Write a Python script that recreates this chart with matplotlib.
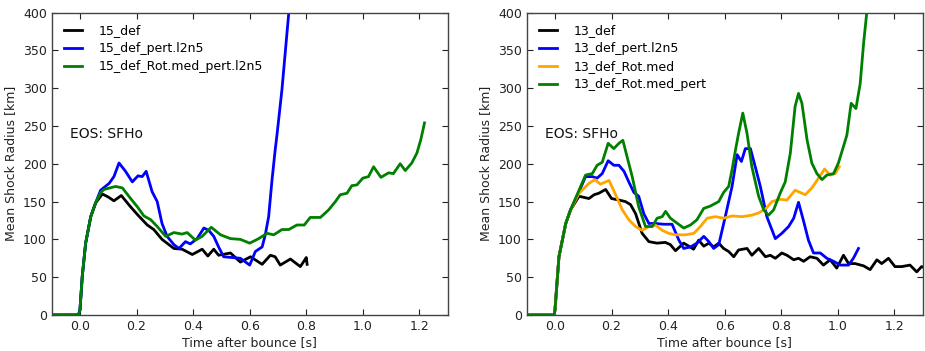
import numpy as np
import matplotlib
matplotlib.use("Agg")
import matplotlib.pyplot as plt

# Mean shock radius vs. time after bounce, two progenitor groups

# --- 15 Msun models (left panel) ---
t15_def = [-0.1, -0.005, 0.0, 0.008, 0.02, 0.038, 0.055, 0.079, 0.1, 0.12, 0.146, 0.179,
           0.205, 0.238, 0.261, 0.29, 0.332, 0.361, 0.397, 0.432, 0.452, 0.473, 0.49,
           0.532, 0.567, 0.603, 0.644, 0.673, 0.69, 0.708, 0.744, 0.779, 0.795, 0.8, 0.803]
r15_def = [0, 0, 7, 51, 95, 130, 148, 160, 156, 151, 158, 143,
           132, 119, 113, 100, 88, 87, 80, 87, 78, 87, 79,
           82, 70, 77, 67, 79, 77, 66, 74, 64, 73, 76, 67]

t15_pert = [-0.1, -0.005, 0.0, 0.008, 0.02, 0.038, 0.055, 0.073, 0.103, 0.12, 0.138, 0.161,
            0.185, 0.205, 0.22, 0.234, 0.255, 0.273, 0.29, 0.308, 0.332, 0.35, 0.373,
            0.39, 0.414, 0.438, 0.455, 0.473, 0.49, 0.508, 0.567, 0.6, 0.62, 0.644,
            0.655, 0.667, 0.679, 0.69, 0.697, 0.714, 0.738, 0.76]
r15_pert = [0, 0, 7, 51, 95, 130, 148, 165, 174, 183, 201, 190,
            176, 184, 183, 190, 163, 150, 121, 104, 93, 88, 97,
            94, 101, 115, 112, 104, 90, 77, 75, 66, 84, 90,
            106, 130, 179, 218, 240, 298, 399, 460]

t15_rot = [-0.1, -0.005, 0.0, 0.008, 0.02, 0.038, 0.055, 0.073, 0.085, 0.126, 0.15, 0.179,
           0.203, 0.226, 0.25, 0.273, 0.303, 0.332, 0.361, 0.379, 0.408, 0.432, 0.464,
           0.497, 0.532, 0.567, 0.6, 0.632, 0.661, 0.685, 0.714, 0.738, 0.767, 0.793,
           0.814, 0.85, 0.879, 0.903, 0.92, 0.944, 0.961, 0.979, 1.0, 1.02, 1.038,
           1.064, 1.091, 1.108, 1.132, 1.15, 1.173, 1.191, 1.205, 1.218]
r15_rot = [0, 0, 7, 51, 95, 130, 148, 162, 166, 170, 168, 154,
           143, 131, 126, 117, 104, 109, 107, 109, 99, 104, 116,
           106, 101, 100, 95, 101, 108, 106, 113, 113, 119, 119,
           129, 129, 139, 150, 159, 161, 171, 172, 181, 183, 196,
           182, 188, 187, 200, 191, 201, 214, 232, 254]

# --- 13 Msun models (right panel) ---
t13_def = [-0.1, -0.003, 0.0, 0.014, 0.026, 0.038, 0.055, 0.085, 0.12, 0.138, 0.155, 0.179,
           0.2, 0.226, 0.249, 0.267, 0.285, 0.308, 0.332, 0.361, 0.39, 0.408, 0.426,
           0.455, 0.473, 0.49, 0.508, 0.526, 0.544, 0.561, 0.579, 0.596, 0.614, 0.632,
           0.649, 0.679, 0.696, 0.72, 0.744, 0.761, 0.779, 0.802, 0.82, 0.844, 0.861,
           0.879, 0.902, 0.926, 0.949, 0.973, 0.996, 1.02, 1.038, 1.061, 1.091, 1.114,
           1.138, 1.155, 1.179, 1.202, 1.226, 1.255, 1.279, 1.296, 1.31]
r13_def = [0, 0, 7, 77, 99, 121, 139, 157, 154, 159, 161, 166,
           154, 152, 150, 146, 134, 108, 97, 95, 96, 93, 85,
           95, 91, 87, 99, 91, 95, 90, 95, 88, 84, 77,
           86, 88, 79, 88, 77, 79, 75, 82, 79, 73, 75,
           71, 77, 75, 66, 73, 62, 79, 68, 68, 65, 60,
           73, 68, 75, 64, 64, 66, 57, 64, 62]

t13_pert = [-0.1, -0.003, 0.0, 0.014, 0.026, 0.038, 0.055, 0.085, 0.108, 0.132, 0.149, 0.167,
            0.188, 0.208, 0.226, 0.244, 0.261, 0.279, 0.296, 0.314, 0.332, 0.355, 0.385,
            0.414, 0.438, 0.455, 0.479, 0.502, 0.526, 0.544, 0.561, 0.579, 0.602, 0.626,
            0.644, 0.659, 0.673, 0.691, 0.708, 0.726, 0.749, 0.779, 0.802, 0.826, 0.844,
            0.861, 0.879, 0.896, 0.914, 0.938, 0.961, 0.985, 1.008, 1.038, 1.055, 1.073]
r13_pert = [0, 0, 7, 77, 99, 121, 139, 163, 183, 183, 181, 187,
            204, 198, 198, 190, 176, 162, 157, 134, 121, 121, 120,
            120, 99, 88, 90, 95, 104, 97, 88, 93, 130, 170,
            212, 203, 220, 220, 196, 170, 130, 101, 108, 117, 128,
            149, 124, 99, 82, 82, 75, 71, 66, 66, 75, 88]

t13_rot = [-0.1, -0.003, 0.0, 0.014, 0.026, 0.038, 0.055, 0.085, 0.12, 0.141, 0.161, 0.191,
           0.212, 0.238, 0.261, 0.285, 0.308, 0.332, 0.355, 0.379, 0.402, 0.426, 0.461,
           0.491, 0.514, 0.538, 0.567, 0.596, 0.626, 0.661, 0.696, 0.72, 0.744, 0.767,
           0.796, 0.82, 0.849, 0.885, 0.908, 0.932, 0.953, 0.973, 0.991, 1.005]
r13_rot = [0, 0, 7, 77, 99, 121, 139, 161, 174, 179, 173, 178,
           161, 139, 126, 117, 112, 117, 119, 112, 108, 106, 106,
           108, 117, 128, 130, 128, 131, 130, 132, 135, 140, 150,
           153, 152, 165, 159, 168, 181, 193, 185, 187, 196]

t13_rot_pert = [-0.1, -0.003, 0.0, 0.014, 0.026, 0.038, 0.055, 0.085, 0.108, 0.132, 0.149,
                0.167, 0.188, 0.208, 0.226, 0.24, 0.255, 0.273, 0.296, 0.32, 0.344, 0.361,
                0.379, 0.391, 0.408, 0.426, 0.455, 0.479, 0.502, 0.526, 0.549, 0.579,
                0.596, 0.614, 0.626, 0.638, 0.649, 0.664, 0.679, 0.696, 0.72, 0.738,
                0.755, 0.773, 0.796, 0.814, 0.832, 0.849, 0.861, 0.873, 0.891, 0.908,
                0.926, 0.944, 0.961, 0.985, 1.002, 1.02, 1.032, 1.047, 1.064, 1.079,
                1.091, 1.102, 1.115]
r13_rot_pert = [0, 0, 7, 77, 99, 121, 139, 165, 185, 187, 198,
                202, 227, 220, 227, 231, 209, 183, 143, 117, 117, 128,
                130, 137, 128, 123, 115, 119, 126, 141, 144, 150,
                162, 170, 192, 218, 240, 267, 240, 196, 157, 139,
                132, 139, 161, 176, 214, 276, 293, 280, 232, 201,
                187, 179, 185, 187, 201, 223, 238, 280, 273, 306,
                359, 399, 440]

eos_label = "EOS: SFHo"
xticks = [0.0, 0.2, 0.4, 0.6, 0.8, 1.0, 1.2]
yticks = [0, 50, 100, 150, 200, 250, 300, 350, 400]

panels = [
    [(t15_def, r15_def, "k", "15_def"),
     (t15_pert, r15_pert, "b", "15_def_pert.l2n5"),
     (t15_rot, r15_rot, "g", "15_def_Rot.med_pert.l2n5")],
    [(t13_def, r13_def, "k", "13_def"),
     (t13_pert, r13_pert, "b", "13_def_pert.l2n5"),
     (t13_rot, r13_rot, "orange", "13_def_Rot.med"),
     (t13_rot_pert, r13_rot_pert, "g", "13_def_Rot.med_pert")],
]

plt.rcParams["font.family"] = "DejaVu Sans"
plt.rcParams["font.size"] = 8.5

fig = plt.figure(figsize=(9.25, 3.51), dpi=100)
lefts = [51.7 / 925, 526.7 / 925]

for left, series in zip(lefts, panels):
    ax = fig.add_axes([left, 36 / 351, 396 / 925, 302.5 / 351])
    for t, r, c, lab in series:
        ax.plot(t, r, color=c, lw=2, label=lab, solid_joinstyle="round")
    ax.set_xlim(-0.1, 1.3)
    ax.set_ylim(0, 400)
    ax.set_xticks(xticks)
    ax.set_yticks(yticks)
    ax.tick_params(direction="in", top=True, right=True, length=4, width=0.8,
                   labelsize=9, colors="#222222")
    for sp in ax.spines.values():
        sp.set_color("#444444")
        sp.set_linewidth(1)
    ax.set_xlabel("Time after bounce [s]", fontsize=9, labelpad=2, color="#222222")
    ax.set_ylabel("Mean Shock Radius [km]", fontsize=9, labelpad=4, color="#222222")
    ax.text(-0.035, 240, eos_label, fontsize=10, va="center", color="#111111")
    ax.legend(loc="upper left", frameon=False, fontsize=9, handlelength=1.5,
              handletextpad=1.3, labelspacing=0.4, borderaxespad=0.55)

fig.savefig("out.png", dpi=100)
